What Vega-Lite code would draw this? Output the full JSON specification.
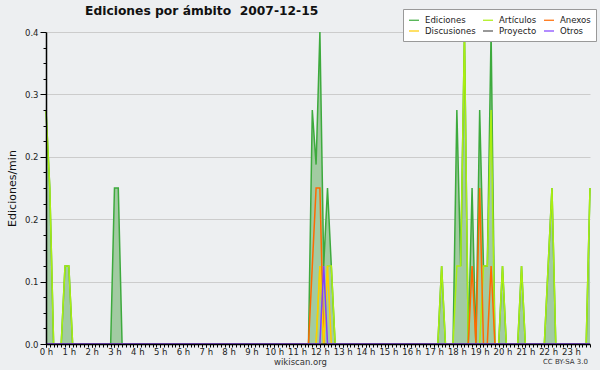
{
  "$schema": "https://vega.github.io/schema/vega-lite/v6.json",
  "width": 544,
  "height": 312,
  "autosize": {"type": "none"},
  "padding": {"left": 46, "top": 32, "right": 10, "bottom": 26},
  "background": "#edeff1",
  "config": {"view": {"stroke": null}, "font": "DejaVu Sans"},
  "title": {"text": "Ediciones por ámbito\u00a0 2007-12-15", "anchor": "start", "frame": "group", "dx": 39, "dy": 19, "offset": 10, "fontSize": 12.3, "font": "DejaVu Sans", "fontWeight": "bold", "color": "#111111"},
  "data": {"values": [
    {"s": "Ediciones", "m": 0, "v": 0.3},
    {"s": "Ediciones", "m": 10, "v": 0.2},
    {"s": "Ediciones", "m": 20, "v": 0},
    {"s": "Ediciones", "m": 40, "v": 0},
    {"s": "Ediciones", "m": 50, "v": 0.1},
    {"s": "Ediciones", "m": 60, "v": 0.1},
    {"s": "Ediciones", "m": 70, "v": 0},
    {"s": "Ediciones", "m": 170, "v": 0},
    {"s": "Ediciones", "m": 180, "v": 0.2},
    {"s": "Ediciones", "m": 190, "v": 0.2},
    {"s": "Ediciones", "m": 200, "v": 0},
    {"s": "Ediciones", "m": 690, "v": 0},
    {"s": "Ediciones", "m": 700, "v": 0.3},
    {"s": "Ediciones", "m": 710, "v": 0.23},
    {"s": "Ediciones", "m": 720, "v": 0.4},
    {"s": "Ediciones", "m": 730, "v": 0.1},
    {"s": "Ediciones", "m": 740, "v": 0.2},
    {"s": "Ediciones", "m": 750, "v": 0.1},
    {"s": "Ediciones", "m": 760, "v": 0},
    {"s": "Ediciones", "m": 1030, "v": 0},
    {"s": "Ediciones", "m": 1040, "v": 0.1},
    {"s": "Ediciones", "m": 1050, "v": 0},
    {"s": "Ediciones", "m": 1070, "v": 0},
    {"s": "Ediciones", "m": 1080, "v": 0.3},
    {"s": "Ediciones", "m": 1090, "v": 0.1},
    {"s": "Ediciones", "m": 1100, "v": 0.4},
    {"s": "Ediciones", "m": 1110, "v": 0},
    {"s": "Ediciones", "m": 1120, "v": 0.2},
    {"s": "Ediciones", "m": 1130, "v": 0},
    {"s": "Ediciones", "m": 1140, "v": 0.3},
    {"s": "Ediciones", "m": 1150, "v": 0.1},
    {"s": "Ediciones", "m": 1160, "v": 0.1},
    {"s": "Ediciones", "m": 1170, "v": 0.4},
    {"s": "Ediciones", "m": 1180, "v": 0},
    {"s": "Ediciones", "m": 1190, "v": 0},
    {"s": "Ediciones", "m": 1200, "v": 0.1},
    {"s": "Ediciones", "m": 1210, "v": 0},
    {"s": "Ediciones", "m": 1240, "v": 0},
    {"s": "Ediciones", "m": 1250, "v": 0.1},
    {"s": "Ediciones", "m": 1260, "v": 0},
    {"s": "Ediciones", "m": 1310, "v": 0},
    {"s": "Ediciones", "m": 1320, "v": 0.1},
    {"s": "Ediciones", "m": 1330, "v": 0.2},
    {"s": "Ediciones", "m": 1340, "v": 0},
    {"s": "Ediciones", "m": 1420, "v": 0},
    {"s": "Ediciones", "m": 1430, "v": 0.2},

    {"s": "Artículos", "m": 0, "v": 0.3},
    {"s": "Artículos", "m": 10, "v": 0.2},
    {"s": "Artículos", "m": 20, "v": 0},
    {"s": "Artículos", "m": 40, "v": 0},
    {"s": "Artículos", "m": 50, "v": 0.1},
    {"s": "Artículos", "m": 60, "v": 0.1},
    {"s": "Artículos", "m": 70, "v": 0},
    {"s": "Artículos", "m": 710, "v": 0},
    {"s": "Artículos", "m": 720, "v": 0.1},
    {"s": "Artículos", "m": 730, "v": 0},
    {"s": "Artículos", "m": 740, "v": 0.1},
    {"s": "Artículos", "m": 750, "v": 0.1},
    {"s": "Artículos", "m": 760, "v": 0},
    {"s": "Artículos", "m": 1030, "v": 0},
    {"s": "Artículos", "m": 1040, "v": 0.1},
    {"s": "Artículos", "m": 1050, "v": 0},
    {"s": "Artículos", "m": 1070, "v": 0},
    {"s": "Artículos", "m": 1080, "v": 0.1},
    {"s": "Artículos", "m": 1090, "v": 0.1},
    {"s": "Artículos", "m": 1100, "v": 0.4},
    {"s": "Artículos", "m": 1110, "v": 0},
    {"s": "Artículos", "m": 1140, "v": 0},
    {"s": "Artículos", "m": 1150, "v": 0.1},
    {"s": "Artículos", "m": 1160, "v": 0.1},
    {"s": "Artículos", "m": 1170, "v": 0.3},
    {"s": "Artículos", "m": 1180, "v": 0},
    {"s": "Artículos", "m": 1190, "v": 0},
    {"s": "Artículos", "m": 1200, "v": 0.1},
    {"s": "Artículos", "m": 1210, "v": 0},
    {"s": "Artículos", "m": 1240, "v": 0},
    {"s": "Artículos", "m": 1250, "v": 0.1},
    {"s": "Artículos", "m": 1260, "v": 0},
    {"s": "Artículos", "m": 1310, "v": 0},
    {"s": "Artículos", "m": 1320, "v": 0.1},
    {"s": "Artículos", "m": 1330, "v": 0.2},
    {"s": "Artículos", "m": 1340, "v": 0},
    {"s": "Artículos", "m": 1420, "v": 0},
    {"s": "Artículos", "m": 1430, "v": 0.2},

    {"s": "Anexos", "m": 0, "v": 0},
    {"s": "Anexos", "m": 690, "v": 0},
    {"s": "Anexos", "m": 700, "v": 0.1},
    {"s": "Anexos", "m": 710, "v": 0.2},
    {"s": "Anexos", "m": 720, "v": 0.2},
    {"s": "Anexos", "m": 730, "v": 0},
    {"s": "Anexos", "m": 1110, "v": 0},
    {"s": "Anexos", "m": 1120, "v": 0.1},
    {"s": "Anexos", "m": 1130, "v": 0},
    {"s": "Anexos", "m": 1140, "v": 0.2},
    {"s": "Anexos", "m": 1150, "v": 0},
    {"s": "Anexos", "m": 1160, "v": 0},
    {"s": "Anexos", "m": 1170, "v": 0.1},
    {"s": "Anexos", "m": 1180, "v": 0},
    {"s": "Anexos", "m": 1430, "v": 0},

    {"s": "Discusiones", "m": 0, "v": 0},
    {"s": "Discusiones", "m": 710, "v": 0},
    {"s": "Discusiones", "m": 720, "v": 0.1},
    {"s": "Discusiones", "m": 730, "v": 0},
    {"s": "Discusiones", "m": 740, "v": 0.1},
    {"s": "Discusiones", "m": 750, "v": 0},
    {"s": "Discusiones", "m": 1430, "v": 0},

    {"s": "Proyecto", "m": 0, "v": 0},
    {"s": "Proyecto", "m": 1430, "v": 0},

    {"s": "Otros", "m": 0, "v": 0},
    {"s": "Otros", "m": 720, "v": 0},
    {"s": "Otros", "m": 730, "v": 0.1},
    {"s": "Otros", "m": 740, "v": 0},
    {"s": "Otros", "m": 1430, "v": 0}
  ]},
  "resolve": {"axis": {"x": "independent", "y": "independent"}},
  "layer": [
    {
      "transform": [{"filter": "datum.s === 'Ediciones'"}],
      "mark": {"type": "area", "color": "#a2cba2"},
      "encoding": {
        "x": {"field": "m", "type": "quantitative",
          "scale": {"domain": [0, 1430], "nice": false, "zero": false},
          "axis": {"orient": "bottom", "values": [0, 60, 120, 180, 240, 300, 360, 420, 480, 540, 600, 660, 720, 780, 840, 900, 960, 1020, 1080, 1140, 1200, 1260, 1320, 1380], "labelExpr": "floor(datum.value / 60) + ' h'", "labelFlush": false, "labelOverlap": false, "labelFontSize": 8.5, "labelColor": "#222222", "labelPadding": 0, "tickSize": 3, "tickColor": "#000000", "domainColor": "#000000", "domainWidth": 1.5, "grid": false, "zindex": 1,
            "title": "wikiscan.org", "titleFontSize": 8.5, "titleFontWeight": "normal", "titleColor": "#333333", "titleX": 254, "titleY": 17, "titleAlign": "center", "titleBaseline": "middle"}},
        "y": {"field": "v", "type": "quantitative", "stack": null,
          "scale": {"domain": [0, 0.4], "nice": false},
          "axis": {"orient": "left", "values": [0.08, 0.16, 0.24, 0.32, 0.4], "grid": true, "gridColor": "#cccccc", "gridWidth": 1, "domain": false, "ticks": false, "labels": false, "title": null, "zindex": 0}}
      }
    },
    {
      "transform": [{"filter": "datum.s === 'Ediciones'"}],
      "mark": {"type": "line", "strokeWidth": 1.5},
      "encoding": {
        "x": {"field": "m", "type": "quantitative", "axis": null},
        "y": {"field": "v", "type": "quantitative",
          "axis": {"orient": "left", "values": [0, 0.08, 0.16, 0.24, 0.32, 0.4], "format": ".1f", "grid": false, "tickSize": 6, "tickColor": "#000000", "domainColor": "#000000", "domainWidth": 1.5, "labelFontSize": 8.5, "labelColor": "#222222", "labelPadding": 2, "zindex": 1,
            "title": "Ediciones/min", "titleFontSize": 11, "titleFontWeight": "normal", "titleColor": "#111111", "titleX": -34, "titleY": 156, "titleAngle": -90, "titleAlign": "center", "titleBaseline": "middle"}},
        "color": {"field": "s", "type": "nominal",
          "scale": {"domain": ["Ediciones", "Artículos", "Anexos", "Discusiones", "Proyecto", "Otros"], "range": ["#3daa3d", "#aaee11", "#ff6a00", "#ffcc00", "#555555", "#8040ff"]},
          "legend": {"orient": "none", "legendX": 357, "legendY": -23, "direction": "horizontal", "columns": 3, "title": null, "fillColor": "#ffffff", "strokeColor": "#999999", "padding": 5, "symbolType": "stroke", "symbolSize": 100, "symbolStrokeWidth": 1.2, "labelFont": "DejaVu Sans Condensed, DejaVu Sans", "labelFontSize": 9.5, "labelColor": "#222222", "labelOffset": 5, "columnPadding": 4, "rowPadding": 0}}
      }
    },
    {
      "transform": [{"filter": "datum.s !== 'Ediciones'"}],
      "mark": {"type": "line", "strokeWidth": 1.5},
      "encoding": {
        "x": {"field": "m", "type": "quantitative", "axis": null},
        "y": {"field": "v", "type": "quantitative", "axis": null},
        "color": {"field": "s", "type": "nominal"}
      }
    },
    {
      "transform": [{"filter": "datum.s === 'Ediciones'"}],
      "mark": {"type": "line", "strokeOpacity": 0},
      "encoding": {
        "x": {"field": "m", "type": "quantitative",
          "axis": {"orient": "bottom", "tickCount": 143, "labels": false, "domain": false, "grid": false, "tickSize": 3, "tickColor": "#000000", "title": null, "zindex": 1}},
        "y": {"field": "v", "type": "quantitative",
          "axis": {"orient": "left", "values": [0.02, 0.04, 0.06, 0.1, 0.12, 0.14, 0.18, 0.2, 0.22, 0.26, 0.28, 0.3, 0.34, 0.36, 0.38], "labels": false, "domain": false, "grid": false, "tickSize": 3, "tickColor": "#000000", "title": null, "zindex": 1}}
      }
    },
    {
      "data": {"values": [{"m": 1430, "v": 0, "txt": "CC BY-SA 3.0"}]},
      "mark": {"type": "text", "align": "right", "baseline": "middle", "dy": 18, "dx": -2, "fontSize": 7, "color": "#333333"},
      "encoding": {
        "x": {"field": "m", "type": "quantitative", "axis": null},
        "y": {"field": "v", "type": "quantitative", "axis": null},
        "text": {"field": "txt"}
      }
    }
  ]
}
